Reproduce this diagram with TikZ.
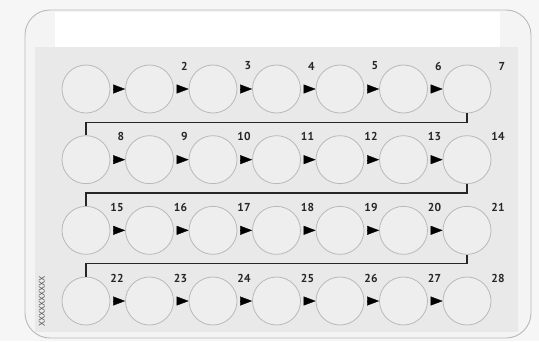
\documentclass[tikz,border=0pt]{standalone}
\usepackage{fontspec}
\setmainfont{PT Sans}
\usetikzlibrary{arrows.meta}
\begin{document}
\begin{tikzpicture}[x=1pt,y=-1pt,
  pill/.style={circle,draw=gray!55,line width=0.8pt,fill=gray!13,minimum size=48pt,inner sep=0pt},
  num/.style={font=\fontsize{11.5}{13}\selectfont\bfseries,text=black!85},
  nextarrow/.style={-{Triangle[length=12pt,width=9pt]},line width=0.3pt,shorten <=3pt},
  rowlink/.style={line width=1.3pt,black!85}]
\useasboundingbox (0,0) rectangle (539,341);
\fill[gray!7] (0,0) rectangle (539,341);
\draw[gray!55,line width=0.9pt,fill=gray!9,rounded corners=25pt] (25,10) rectangle (531,338);
\fill[gray!17] (35,47) rectangle (518,332);
\fill[white] (55,12) rectangle (500,47);
\foreach \r in {0,...,3} {
  \foreach \c in {0,...,6} {
    \pgfmathtruncatemacro\n{\r*7+\c+1}
    \pgfmathsetmacro\cx{86+63.5*\c}
    \pgfmathsetmacro\cy{89+70.67*\r}
    \node[pill] (p\n) at (\cx,\cy) {};
    \ifnum\n>1
      \ifnum\n<10
        \pgfmathsetmacro\lx{\cx+35}
      \else
        \pgfmathsetmacro\lx{\cx+31}
      \fi
      \node[num] (l\n) at (\lx,\cy-23) {\n};
    \fi
  }
}
\foreach \r in {0,...,3} {
  \foreach \c in {0,...,5} {
    \pgfmathtruncatemacro\n{\r*7+\c+1}
    \pgfmathtruncatemacro\m{\n+1}
    \draw[nextarrow] (p\n) -- (p\m);
  }
}
\draw[rowlink] (p7.south) -- ++(0,9) -| (p8.north);
\draw[rowlink] (p14.south) -- ++(0,9) -| (p15.north);
\draw[rowlink] (p21.south) -- ++(0,9) -| (p22.north);
\node[rotate=90,font=\fontsize{8.5}{9}\selectfont,text=black!70] (code) at (42,301) {XXXXXXXXXX};
\end{tikzpicture}
\end{document}
